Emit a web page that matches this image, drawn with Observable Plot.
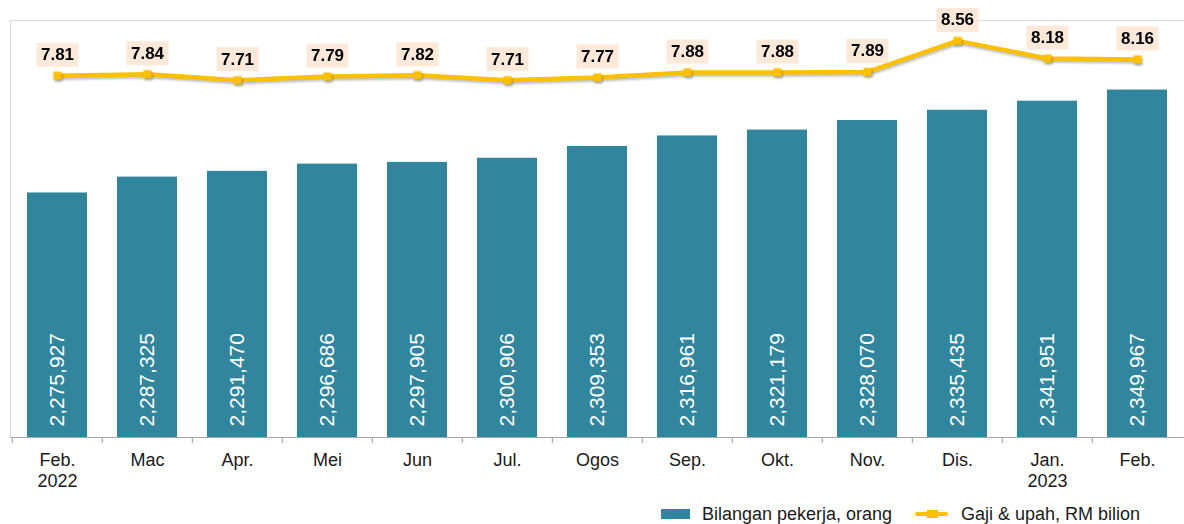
<!DOCTYPE html>
<html><head><meta charset="utf-8">
<script src="https://cdn.jsdelivr.net/npm/d3@7"></script>
<script src="https://cdn.jsdelivr.net/npm/@observablehq/plot@0.6"></script>
<style>
body{margin:0;background:#fff;font-family:"Liberation Sans",Arial,sans-serif;}
#chart svg{display:block}
#legend{position:relative;height:27px;width:1184px;font-size:18px;color:#1a1a1a}
#legend .it{position:absolute;white-space:nowrap;line-height:20px}
</style></head><body><div id="chart"></div><div id="legend"></div>
<script>
const months = ["Feb.\n2022","Mac","Apr.","Mei","Jun","Jul.","Ogos","Sep.","Okt.","Nov.","Dis.","Jan.\n2023","Feb."];
const employees = [2275927, 2287325, 2291470, 2296686, 2297905, 2300906, 2309353, 2316961, 2321179, 2328070, 2335435, 2341951, 2349967];
const wages = [7.81, 7.84, 7.71, 7.79, 7.82, 7.71, 7.77, 7.88, 7.88, 7.89, 8.56, 8.18, 8.16];
const seriesNames = ["Bilangan pekerja, orang", "Gaji & upah, RM bilion"];

const barColor = "#31859c", lineColor = "#ffc000";
const yMin = 2100000, yMax = 2400000, wMax = 9;
const toY = w => yMin + w * (yMax - yMin) / wMax;
const data = months.map((m, i) => ({m, emp: employees[i], w: wages[i]}));

const boxSymbol = {draw(ctx){ctx.moveTo(-21,-12);ctx.lineTo(21,-12);ctx.lineTo(21,12);ctx.lineTo(-21,12);ctx.closePath();}};

const chart = Plot.plot({
  width: 1184, height: 497,
  marginLeft: 10, marginRight: 0, marginTop: 20, marginBottom: 60,
  style: {fontFamily: "Liberation Sans, Arial, sans-serif", fontSize: "18px", color: "#1a1a1a", background: "#fff"},
  x: {type: "band", domain: months, paddingInner: 0.336, paddingOuter: 0.168, axis: null},
  y: {domain: [yMin, yMax], axis: null},
  marks: [
    Plot.ruleY([yMax], {stroke: "#d9d9d9"}),
    Plot.frame({anchor: "left", stroke: "#d9d9d9"}),
    Plot.barY(data, {x: "m", y1: () => yMin, y2: "emp", fill: barColor}),
    Plot.text(data, {x: "m", y: () => yMin, text: d => d3.format(",")(d.emp), rotate: -90, textAnchor: "start", lineAnchor: "middle", dy: -11, fill: "white", fontSize: 21}),
    Plot.ruleY([yMin], {stroke: "#a6a6a6", strokeWidth: 1.2}),
    Plot.ruleX(months, {x: d => d, dx: -45.15, insetTop: 417, insetBottom: -6, stroke: "#a6a6a6", strokeWidth: 1.2}),
    Plot.axisX({tickSize: 0, tickPadding: 14, fontSize: 18, lineHeight: 1.15, fill: "#1a1a1a", label: null}),
    Plot.line(data, {x: "m", y: d => toY(d.w), stroke: lineColor, strokeWidth: 4.5}),
    Plot.dot(data, {x: "m", y: d => toY(d.w), symbol: "square", r: 4.6, fill: lineColor}),
    Plot.dot(data, {x: "m", y: d => toY(d.w), symbol: boxSymbol, fill: "#fde9d9", dy: -21}),
    Plot.text(data, {x: "m", y: d => toY(d.w), text: d => d.w.toFixed(2), dy: -21, fontWeight: "bold", fontSize: 17, fill: "#000", lineAnchor: "middle"})
  ]
});
document.getElementById("chart").append(chart);
const dots = chart.querySelectorAll('g[aria-label="dot"]');
const ln = chart.querySelector('g[aria-label="line"]');
if (ln) ln.style.filter = "drop-shadow(1px 2px 1px rgba(0,0,0,0.25))";
if (dots[0]) dots[0].style.filter = "drop-shadow(1px 2px 1px rgba(0,0,0,0.3))";

const lg = document.getElementById("legend");
lg.innerHTML = `
<div class="it" style="left:661px;top:12px;width:29px;height:10px;background:${barColor}"></div>
<div class="it" style="left:702px;top:7px">${seriesNames[0]}</div>
<div class="it" style="left:915px;top:15px;width:33px;height:4px;background:${lineColor};border-radius:2px"></div>
<div class="it" style="left:927px;top:13px;width:11px;height:8px;background:${lineColor}"></div>
<div class="it" style="left:961px;top:7px">${seriesNames[1]}</div>`;
</script></body></html>
